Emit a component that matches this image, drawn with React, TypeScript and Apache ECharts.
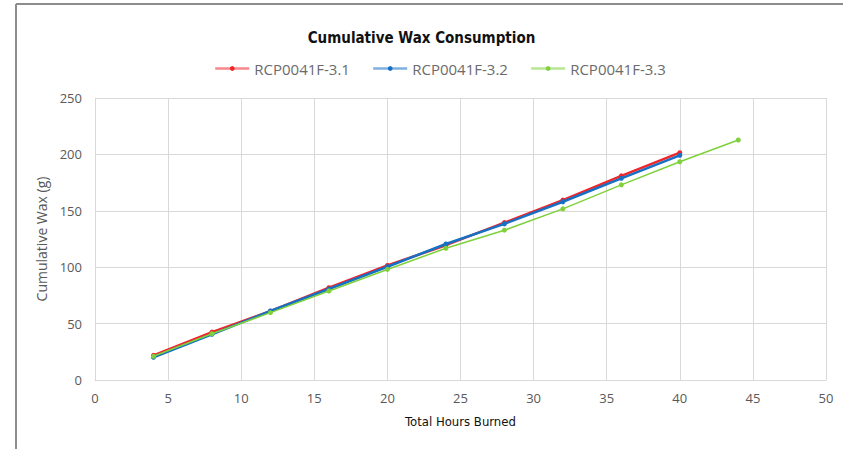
import React, { useEffect, useRef } from "react";
import * as echarts from "echarts";

const hours31 = [4, 8, 12, 16, 20, 24, 28, 32, 36, 40];
const wax31 = [21.9, 42.5, 61, 81.8, 101.5, 119.5, 139.5, 159.5, 181, 201.5];
const hours32 = [4, 8, 12, 16, 20, 24, 28, 32, 36, 40];
const wax32 = [20.2, 40.5, 61.2, 80.7, 100.4, 120.6, 138.4, 158, 178.8, 199.2];
const hours33 = [4, 8, 12, 16, 20, 24, 28, 32, 36, 40, 44];
const wax33 = [21, 41, 59.7, 78.9, 98, 116.8, 132.8, 151.7, 173, 193.5, 212.8];
const seriesNames = ["RCP0041F-3.1", "RCP0041F-3.2", "RCP0041F-3.3"];

const pairs = (xs: number[], ys: number[]) => xs.map((x, i) => [x, ys[i]]);

export default function App() {
  const ref = useRef<HTMLDivElement>(null);
  useEffect(() => {
    if (!ref.current) return;
    const chart = echarts.init(ref.current, undefined, { renderer: "svg" });
    const labelFont = "'Open Sans', 'Liberation Sans', sans-serif";
    const condFont = "'DejaVu Sans Condensed', 'DejaVu Sans', sans-serif";
    chart.setOption({
      animation: false,
      backgroundColor: "#ffffff",
      title: {
        text: "Cumulative Wax Consumption",
        left: "center",
        top: 25,
        textStyle: {
          fontFamily: condFont,
          fontWeight: "bold",
          fontSize: 15,
          color: "#111111",
        },
      },
      legend: {
        top: 56,
        left: 209,
        itemWidth: 34,
        itemHeight: 6,
        itemGap: 22,
        lineStyle: { width: 2.5, opacity: 0.55 },
        textStyle: { color: "#6b6b6b", fontSize: 15, fontFamily: labelFont },
        data: seriesNames,
      },
      grid: { left: 95, right: 17, top: 98, bottom: 69 },
      xAxis: {
        type: "value",
        min: 0,
        max: 50,
        interval: 5,
        name: "Total Hours Burned",
        nameLocation: "middle",
        nameGap: 35,
        nameTextStyle: {
          fontFamily: condFont,
          fontSize: 13,
          color: "#111111",
        },
        axisLine: { show: true, lineStyle: { color: "#d9d9d9" } },
        axisTick: { show: false },
        axisLabel: { color: "#595959", fontSize: 13, margin: 11, fontFamily: labelFont },
        splitLine: { show: true, lineStyle: { color: "#d9d9d9" } },
      },
      yAxis: {
        type: "value",
        min: 0,
        max: 250,
        interval: 50,
        name: "Cumulative Wax (g)",
        nameLocation: "middle",
        nameGap: 41,
        nameTextStyle: { fontFamily: labelFont, fontSize: 14, color: "#595959" },
        axisLine: { show: false },
        axisTick: { show: false },
        axisLabel: { color: "#595959", fontSize: 13, margin: 13, fontFamily: labelFont },
        splitLine: { show: true, lineStyle: { color: "#d9d9d9" } },
      },
      graphic: [
        { type: "line", shape: { x1: 16, y1: 4, x2: 843, y2: 4 }, style: { stroke: "#8c8c8c", lineWidth: 2 } },
        { type: "line", shape: { x1: 16, y1: 4, x2: 16, y2: 449 }, style: { stroke: "#8c8c8c", lineWidth: 2 } },
      ],
      series: [
        {
          name: seriesNames[0],
          type: "line",
          data: pairs(hours31, wax31),
          symbol: "circle",
          symbolSize: 5,
          lineStyle: { color: "#f0262b", width: 2.5 },
          itemStyle: { color: "#f0262b" },
          z: 2,
        },
        {
          name: seriesNames[1],
          type: "line",
          data: pairs(hours32, wax32),
          symbol: "circle",
          symbolSize: 5,
          lineStyle: { color: "#1670c4", width: 2.5 },
          itemStyle: { color: "#1670c4" },
          z: 3,
        },
        {
          name: seriesNames[2],
          type: "line",
          data: pairs(hours33, wax33),
          symbol: "circle",
          symbolSize: 5,
          lineStyle: { color: "#7fd13b", width: 1.5 },
          itemStyle: { color: "#7fd13b" },
          z: 4,
        },
      ],
    });
    return () => chart.dispose();
  }, []);
  return <div ref={ref} style={{ width: 843, height: 449, position: "fixed", left: 0, top: 0 }} />;
}
